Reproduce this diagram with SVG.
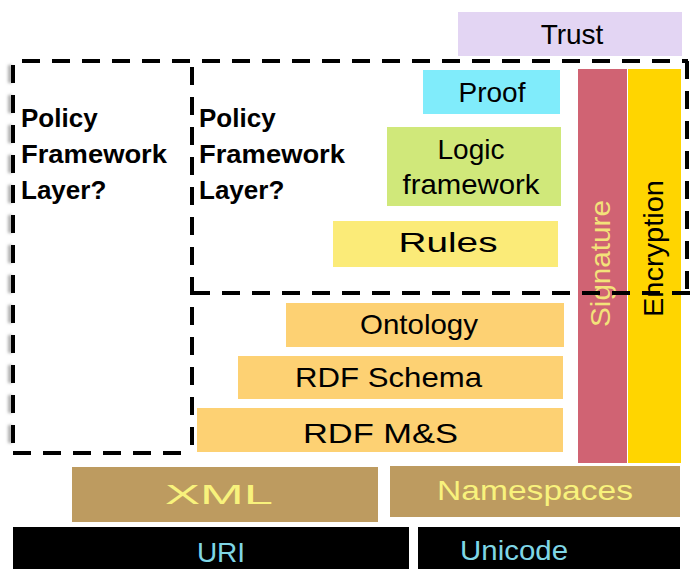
<svg xmlns="http://www.w3.org/2000/svg" width="691" height="569" viewBox="0 0 691 569">
  <defs>
    <filter id="dashShadow" filterUnits="userSpaceOnUse" x="0" y="50" width="30" height="415">
      <feDropShadow dx="-3" dy="0" stdDeviation="1.6" flood-color="#777" flood-opacity="0.6"/>
    </filter>
  </defs>
  <style>
    .lbl { font-family: "Liberation Sans", Arial, sans-serif; font-size: 28px; text-anchor: middle; fill: #000; }
    .pol { font-family: "Liberation Sans", Arial, sans-serif; font-size: 26px; font-weight: bold; fill: #000; }
    .yel { fill: #f8f27c; }
    .sig { fill: #f3e27a; }
    .cyan { fill: #7fd6e6; }
    .dash { fill: none; stroke: #000; stroke-width: 4; stroke-dasharray: 18 12; }
  </style>

  <rect width="691" height="569" fill="#fff"/>

  <!-- layer blocks -->
  <g id="trust">
    <rect x="458" y="12" width="224" height="44" fill="#e3d5f3"/>
    <text class="lbl" x="572" y="44">Trust</text>
  </g>
  <g id="proof">
    <rect x="423" y="70" width="137" height="44" fill="#80ecfb"/>
    <text class="lbl" x="492" y="102">Proof</text>
  </g>
  <g id="logic">
    <rect x="387" y="127" width="174" height="79" fill="#d0e87a"/>
    <text class="lbl" x="471" y="159">Logic</text>
    <text class="lbl" x="471" y="194" textLength="137" lengthAdjust="spacingAndGlyphs">framework</text>
  </g>
  <g id="rules">
    <rect x="333" y="221" width="225" height="46" fill="#fbeb78"/>
    <text class="lbl" x="448" y="252" font-size="30" textLength="99" lengthAdjust="spacingAndGlyphs">Rules</text>
  </g>
  <g id="signature">
    <rect x="578" y="69" width="49" height="394" fill="#d06373"/>
    <text class="lbl sig" transform="translate(610,263.5) rotate(-90)" x="0" y="0" textLength="127" lengthAdjust="spacingAndGlyphs">Signature</text>
  </g>
  <g id="encryption">
    <rect x="628" y="69" width="53" height="394" fill="#ffd500"/>
    <text class="lbl" transform="translate(663,248.5) rotate(-90)" x="0" y="0" textLength="137" lengthAdjust="spacingAndGlyphs">Encryption</text>
  </g>
  <g id="ontology">
    <rect x="286" y="303" width="278" height="44" fill="#fdd173"/>
    <text class="lbl" x="419" y="334" textLength="118" lengthAdjust="spacingAndGlyphs">Ontology</text>
  </g>
  <g id="rdf-schema">
    <rect x="238" y="356" width="325" height="43" fill="#fdd173"/>
    <text class="lbl" x="388.5" y="387" textLength="187" lengthAdjust="spacingAndGlyphs">RDF Schema</text>
  </g>
  <g id="rdf-ms">
    <rect x="197" y="408" width="366" height="44" fill="#fdd173"/>
    <text class="lbl" x="380.5" y="443" textLength="155" lengthAdjust="spacingAndGlyphs">RDF M&amp;S</text>
  </g>
  <g id="xml">
    <rect x="72" y="467" width="306" height="55" fill="#bd9b60"/>
    <text class="lbl yel" x="219" y="504" textLength="108" lengthAdjust="spacingAndGlyphs">XML</text>
  </g>
  <g id="namespaces">
    <rect x="390" y="466" width="290" height="51" fill="#bd9b60"/>
    <text class="lbl yel" x="535" y="500" textLength="196" lengthAdjust="spacingAndGlyphs">Namespaces</text>
  </g>
  <g id="uri">
    <rect x="13" y="527" width="396" height="42" fill="#000"/>
    <text class="lbl cyan" x="221" y="562">URI</text>
  </g>
  <g id="unicode">
    <rect x="418" y="527" width="262" height="42" fill="#000"/>
    <text class="lbl cyan" x="514" y="560" textLength="108" lengthAdjust="spacingAndGlyphs">Unicode</text>
  </g>

  <!-- dashed policy framework frames -->
  <g id="frames">
    <path class="dash" d="M13,65 V453" filter="url(#dashShadow)"/>
    <path class="dash" d="M22,61 H688"/>
    <path class="dash" d="M13,453 H192"/>
    <path class="dash" d="M192,65 V453" stroke-dashoffset="-2"/>
    <path class="dash" d="M192,293 H691"/>
    <path class="dash" d="M687,61 V293"/>
  </g>

  <g id="policy-left">
    <text class="pol" x="21" y="127">Policy</text>
    <text class="pol" x="21" y="163" textLength="146" lengthAdjust="spacingAndGlyphs">Framework</text>
    <text class="pol" x="21" y="199">Layer?</text>
  </g>
  <g id="policy-right">
    <text class="pol" x="199" y="127">Policy</text>
    <text class="pol" x="199" y="163" textLength="146" lengthAdjust="spacingAndGlyphs">Framework</text>
    <text class="pol" x="199" y="199">Layer?</text>
  </g>
</svg>
